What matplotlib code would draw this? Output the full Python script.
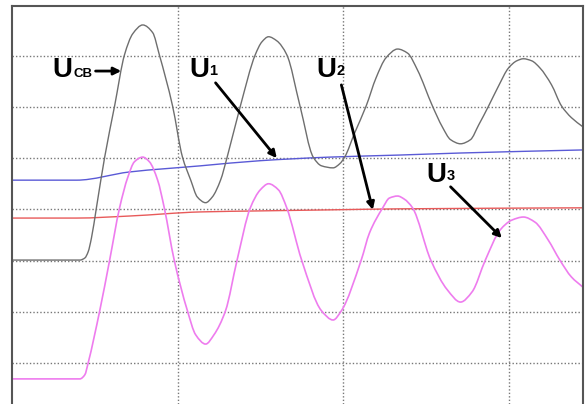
import numpy as np
import matplotlib
matplotlib.use("Agg")
from matplotlib import pyplot as plt
from matplotlib.path import Path
from matplotlib.patches import PathPatch

# time axis in grid divisions, voltage in grid divisions
t_ucb = [0.00, 0.41, 0.44, 0.46, 0.48, 0.51, 0.56, 0.62, 0.68, 0.73, 0.79, 0.85, 0.89, 0.97,
         1.03, 1.08, 1.12, 1.17, 1.21, 1.26, 1.30, 1.38, 1.47, 1.51, 1.55, 1.60, 1.66, 1.74,
         1.82, 1.87, 1.94, 1.98, 2.01, 2.07, 2.14, 2.20, 2.26, 2.33, 2.39, 2.45, 2.54, 2.60,
         2.65, 2.71, 2.77, 2.82, 2.88, 2.94, 3.00, 3.05, 3.09, 3.14, 3.19, 3.26, 3.32, 3.38,
         3.45]
u_cb = [2.01, 2.01, 2.05, 2.17, 2.44, 3.03, 4.02, 5.02, 6.02, 6.43, 6.60, 6.45, 6.02, 5.02,
        4.02, 3.57, 3.24, 3.13, 3.24, 3.57, 4.02, 5.02, 6.02, 6.27, 6.37, 6.29, 6.02, 5.02,
        4.02, 3.85, 3.81, 3.89, 4.02, 4.49, 5.02, 5.57, 5.96, 6.13, 6.05, 5.72, 5.02, 4.61,
        4.36, 4.28, 4.36, 4.65, 5.02, 5.41, 5.76, 5.90, 5.94, 5.90, 5.76, 5.43, 5.02, 4.79,
        4.61]

t_u3 = [0.00, 0.41, 0.44, 0.46, 0.53, 0.59, 0.65, 0.70, 0.74, 0.79, 0.83, 0.88, 0.92, 0.98,
        1.06, 1.11, 1.17, 1.22, 1.29, 1.36, 1.44, 1.50, 1.55, 1.61, 1.66, 1.75, 1.87, 1.94,
        1.99, 2.11, 2.16, 2.24, 2.28, 2.33, 2.37, 2.42, 2.53, 2.63, 2.71, 2.78, 2.86, 2.95,
        3.02, 3.09, 3.16, 3.24, 3.31, 3.38, 3.45]
u3 = [-0.31, -0.31, -0.23, 0.00, 1.02, 2.01, 3.03, 3.63, 3.93, 4.02, 3.93, 3.57, 3.03, 2.01,
      1.02, 0.55, 0.37, 0.55, 1.02, 2.01, 3.03, 3.38, 3.50, 3.38, 3.03, 2.01, 1.02, 0.84,
      1.02, 2.01, 2.54, 3.03, 3.22, 3.26, 3.20, 3.03, 2.01, 1.43, 1.19, 1.39, 2.01, 2.60,
      2.79, 2.85, 2.75, 2.40, 2.01, 1.68, 1.48]

t_u1 = [0.00, 0.39, 0.71, 1.14, 1.50, 1.92, 2.34, 2.71, 3.45]
u1 = [3.57, 3.57, 3.73, 3.85, 3.95, 4.02, 4.06, 4.10, 4.16]

t_u2 = [0.00, 0.39, 0.71, 1.14, 1.50, 1.92, 2.34, 3.45]
u2 = [2.83, 2.83, 2.87, 2.95, 2.97, 2.99, 3.01, 3.03]


def smooth_trace(ax, xs, ys, color, lw):
    # monotone cubic (pchip-style) through the read points, drawn as bezier segments
    x = np.asarray(xs, float)
    y = np.asarray(ys, float)
    h = np.diff(x)
    d = np.diff(y) / h
    m = np.zeros_like(y)
    for i in range(1, len(x) - 1):
        if d[i - 1] * d[i] > 0:
            w1 = 2 * h[i] + h[i - 1]
            w2 = h[i] + 2 * h[i - 1]
            m[i] = (w1 + w2) / (w1 / d[i - 1] + w2 / d[i])
    m[0] = d[0]
    m[-1] = d[-1]
    verts = [(x[0], y[0])]
    codes = [Path.MOVETO]
    for i in range(len(x) - 1):
        dx = h[i] / 3
        verts += [(x[i] + dx, y[i] + m[i] * dx),
                  (x[i + 1] - dx, y[i + 1] - m[i + 1] * dx),
                  (x[i + 1], y[i + 1])]
        codes += [Path.CURVE4] * 3
    ax.add_patch(PathPatch(Path(verts, codes), fill=False, edgecolor=color, lw=lw))


fig = plt.figure(figsize=(5.86, 4.04), dpi=100)
ax = fig.add_axes([12 / 586, 0, 571 / 586, 398 / 404])

smooth_trace(ax, t_u1, u1, "#5a5ad6", 1.0)
smooth_trace(ax, t_u2, u2, "#e85a5a", 1.0)
smooth_trace(ax, t_ucb, u_cb, "#6e6e6e", 1.0)
smooth_trace(ax, t_u3, u3, "#ee7cee", 1.2)

ax.set_xlim(0, 3.45)
ax.set_ylim(-0.80, 6.97)
ax.set_xticks([1, 2, 3])
ax.set_yticks(range(7))
ax.tick_params(length=0, labelbottom=False, labelleft=False)
ax.grid(True, color="#777777", linestyle=(0, (1, 1.5)), lw=1.0)
ax.set_axisbelow(True)
for side in ["left", "top", "right"]:
    ax.spines[side].set_color("#555555")
    ax.spines[side].set_linewidth(1.5)
ax.spines["bottom"].set_visible(False)

big = dict(family="Liberation Sans", fontweight="bold", fontsize=20, color="black")
small = dict(family="Liberation Sans", fontweight="bold", fontsize=10.5, color="black")
arrow = dict(arrowstyle="-|>", color="black", lw=2.0, mutation_scale=11, shrinkA=0, shrinkB=0)

# U_CB
ax.text(0.245, 5.59, "U", va="baseline", **big)
ax.text(0.372, 5.59, "CB", va="baseline", family="Liberation Sans", fontweight="bold",
        fontsize=9.5, color="black")
ax.annotate("", xy=(0.66, 5.70), xytext=(0.505, 5.70), arrowprops=arrow)
# U1
ax.text(1.07, 5.59, "U", va="baseline", **big)
ax.text(1.19, 5.63, "1", va="baseline", **small)
ax.annotate("", xy=(1.60, 4.00), xytext=(1.23, 5.47), arrowprops=arrow)
# U2
ax.text(1.84, 5.59, "U", va="baseline", **big)
ax.text(1.96, 5.63, "2", va="baseline", **small)
ax.annotate("", xy=(2.18, 2.99), xytext=(1.99, 5.43), arrowprops=arrow)
# U3
ax.text(2.505, 3.54, "U", va="baseline", **big)
ax.text(2.625, 3.58, "3", va="baseline", **small)
ax.annotate("", xy=(2.96, 2.44), xytext=(2.65, 3.44), arrowprops=arrow)

fig.savefig("out.png", dpi=100)
